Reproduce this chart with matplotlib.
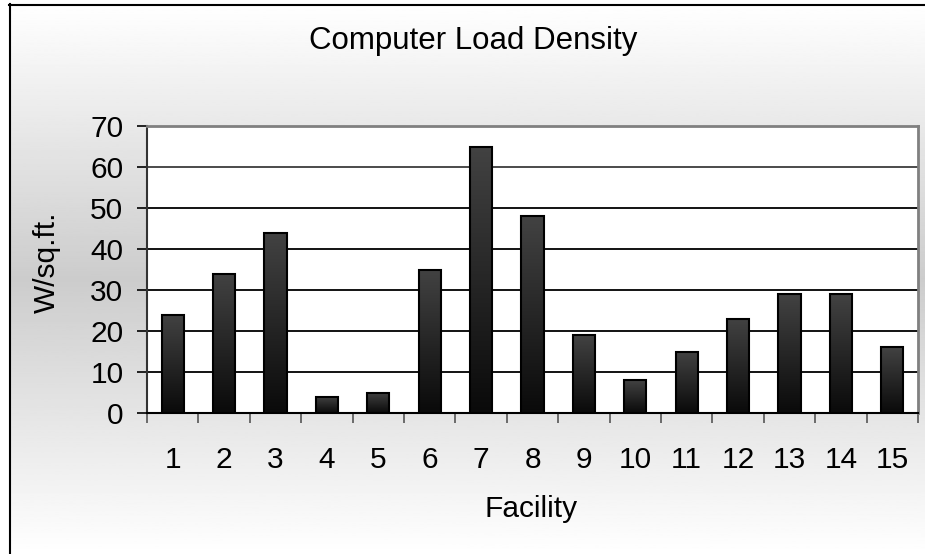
import numpy as np
import matplotlib
matplotlib.use('Agg')
import matplotlib.pyplot as plt
from matplotlib.colors import LinearSegmentedColormap
from matplotlib.lines import Line2D

# Computer load density per facility (W/sq.ft.)
facilities = ['1', '2', '3', '4', '5', '6', '7', '8', '9', '10', '11', '12', '13', '14', '15']
load_density = [24, 34, 44, 4, 5, 35, 65, 48, 19, 8, 15, 23, 29, 29, 16]
y_ticks = [0, 10, 20, 30, 40, 50, 60, 70]

plt.rcParams['font.family'] = ['Liberation Sans', 'DejaVu Sans']
fs = 21.5

fig = plt.figure(figsize=(9.25, 5.54), dpi=100)
W, H = 925, 554

# chart area background: white -> gray -> white
bg = fig.add_axes([0, 0, 1, 1], zorder=-10)
yy = np.linspace(0, 1, 300)
shade = 1 - (1 - np.abs(yy - 0.5) * 2) * (1 - 0.80)
bg.imshow(shade[:, None], cmap='gray', vmin=0, vmax=1, aspect='auto',
          extent=[9 / W, 1, 0, 1 - 4 / H], origin='upper')
bg.set_xlim(0, 1)
bg.set_ylim(0, 1)
bg.axis('off')
fig.add_artist(Line2D([9.5 / W, 9.5 / W], [0, 1 - 4 / H], color='black', lw=1.5, transform=fig.transFigure))
fig.add_artist(Line2D([9 / W, 1], [1 - 4.5 / H, 1 - 4.5 / H], color='black', lw=1.5, transform=fig.transFigure))

ax = fig.add_axes([147 / W, 1 - 413 / H, 771 / W, 287 / H])
ax.set_facecolor('white')

x = np.arange(len(facilities))
bw = 0.43
bar_cmap = LinearSegmentedColormap.from_list('bar', ['#0a0a0a', '#424242'])
grad = np.linspace(0, 1, 100)[:, None]
for xi, v in zip(x, load_density):
    ax.imshow(grad, cmap=bar_cmap, aspect='auto', origin='lower',
              extent=[xi - bw / 2, xi + bw / 2, 0, v], zorder=3)
ax.bar(x, load_density, width=bw, facecolor='none', edgecolor='black', linewidth=1.5, zorder=4)

ax.set_xlim(-0.5, len(facilities) - 0.5)
ax.set_ylim(0, 70)
ax.set_yticks(y_ticks)
ax.set_yticklabels([str(t) for t in y_ticks], fontsize=fs)
ax.set_xticks(x)
ax.set_xticklabels(facilities, fontsize=fs)
ax.set_xticks(np.arange(len(facilities) + 1) - 0.5, minor=True)
ax.tick_params(axis='x', which='major', length=0, pad=24)
ax.tick_params(axis='x', which='minor', length=7, width=1.2, color='#555555', direction='out')
ax.tick_params(axis='y', which='major', length=7, width=1.2, direction='out', pad=10)

for t in y_ticks[1:-1]:
    ax.axhline(t, color='black', lw=1.3, zorder=1)
ax.axhline(60, color='#555555', lw=1.3, zorder=1)

ax.spines['top'].set_color('#808080')
ax.spines['right'].set_color('#808080')
ax.spines['top'].set_linewidth(2)
ax.spines['right'].set_linewidth(2)
ax.spines['left'].set_color('#333333')
ax.spines['left'].set_linewidth(1.5)
ax.spines['bottom'].set_color('black')
ax.spines['bottom'].set_linewidth(1.5)

fig.text(473 / W, 1 - 41 / H, 'Computer Load Density', fontsize=22.5, ha='center', va='center')
fig.text(531 / W, 1 - 509 / H, 'Facility', fontsize=fs, ha='center', va='center')
fig.text(47 / W, 1 - 262 / H, 'W/sq.ft.', fontsize=fs, ha='center', va='center', rotation=90)

fig.savefig('out.png', dpi=100)
